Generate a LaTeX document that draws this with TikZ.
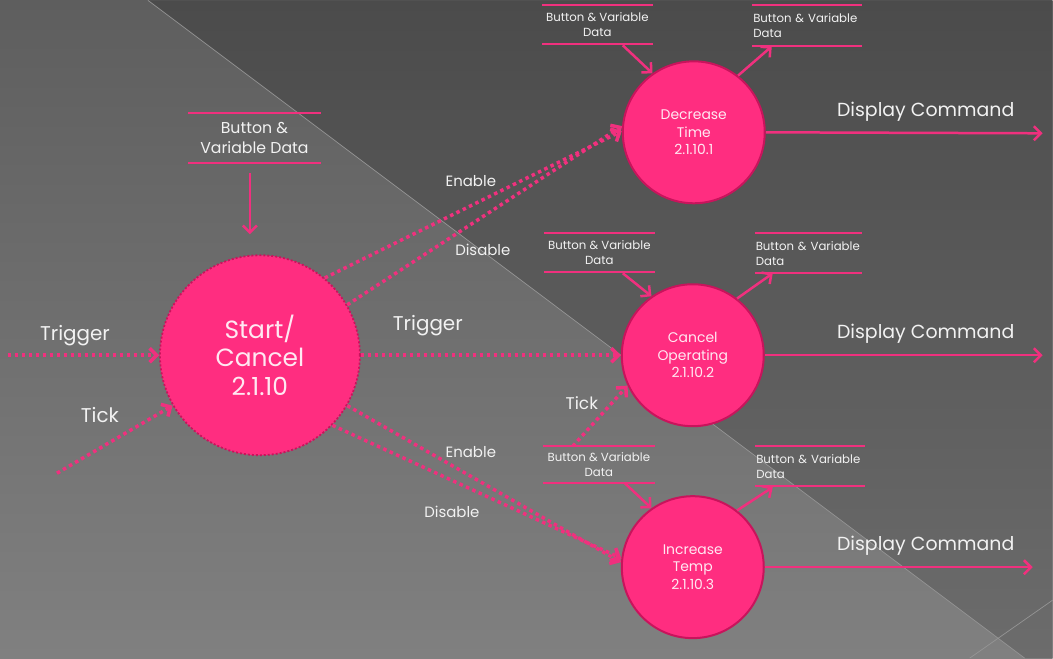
\documentclass[tikz,border=0pt]{standalone}
\usepackage{fontspec}
\setmainfont{Poppins}
\usetikzlibrary{arrows.meta}
\definecolor{pinkfill}{HTML}{FF2D80}
\definecolor{pinkedge}{HTML}{C8145C}
\definecolor{pinkline}{HTML}{F0307E}
\definecolor{labeltext}{HTML}{F2F2F2}
\definecolor{circletext}{HTML}{FFE8F2}
\definecolor{bgLightTop}{HTML}{5E5E5E}
\definecolor{bgLightBot}{HTML}{808080}
\definecolor{bgDarkTop}{HTML}{4B4B4B}
\definecolor{bgDarkBot}{HTML}{6C6C6C}
\definecolor{diagline}{HTML}{959595}
\tikzset{
  process/.style={circle, fill=pinkfill, draw=pinkedge, line width=2bp,
    minimum size=142bp, inner sep=0pt, align=center, text=circletext,
    font=\fontsize{14}{17.5}\selectfont},
  mainprocess/.style={process, minimum size=200bp, dotted, line width=1.8bp,
    font=\fontsize{25}{29}\selectfont},
  store/.style={inner sep=0pt, text=labeltext, align=center,
    font=\fontsize{11.8}{15}\selectfont},
  storerule/.style={fill=pinkline},
  flow/.style={draw=pinkline, line width=2.5bp,
    -{Straight Barb[length=7bp,width=14bp]}},
  dotflow/.style={flow, line width=3.5bp, dash pattern=on 3.5bp off 3.5bp},
  lbl/.style={text=labeltext, inner sep=0pt},
  biglbl/.style={lbl, font=\fontsize{20}{23}\selectfont},
  midlbl/.style={lbl, font=\fontsize{15}{18}\selectfont},
  diag/.style={draw=diagline, line width=0.7bp}
}
% upper and lower rule of a data store, as thin filled bars
\newcommand\storerules[1]{%
  \fill[storerule] ([yshift=1bp]#1.north west) rectangle ([yshift=-1bp]#1.north east);
  \fill[storerule] ([yshift=1bp]#1.south west) rectangle ([yshift=-1bp]#1.south east);
}
\begin{document}
\begin{tikzpicture}[x=1bp,y=-1bp]
% background panels
\shade[top color=bgLightTop, bottom color=bgLightBot] (0,0) rectangle (1053,658);
\shade[top color=bgDarkTop, bottom color=bgDarkBot]
  (148,0) -- (1053,0) -- (1053,658) -- (1025,658) -- cycle;
\draw[diag] (148,0) -- (1025,658);
\draw[diag] (970,658) -- (1053,600);
\useasboundingbox (0,0) rectangle (1053,658);

% processes
\node[mainprocess] (start) at (260,355) {Start/\\Cancel\\2.1.10};
\node[process] (dec)  at (694,132) {Decrease\\Time\\2.1.10.1};
\node[process] (canc) at (693,355) {Cancel\\Operating\\2.1.10.2};
\node[process] (inc)  at (693,567) {Increase\\Temp\\2.1.10.3};

% data stores
\node[store, minimum width=133bp, minimum height=50bp,
  font=\fontsize{15.8}{20}\selectfont] (tls) at (254.5,138) {Button \&\\Variable Data};
\node[store, minimum width=111bp, minimum height=38bp] (dls) at (597.5,24) {Button \& Variable\\Data};
\node[store, minimum width=110bp, minimum height=40bp, text width=107bp, align=left] (drs) at (807,25) {Button \& Variable\\Data};
\node[store, minimum width=111bp, minimum height=39bp] (cls) at (599.5,252.5) {Button \& Variable\\Data};
\node[store, minimum width=107bp, minimum height=40bp, text width=105bp, align=left] (crs) at (808.5,253) {Button \& Variable\\Data};
\node[store, minimum width=112bp, minimum height=37bp] (ils) at (599,464.5) {Button \& Variable\\Data};
\node[store, minimum width=110bp, minimum height=40bp, text width=107bp, align=left] (irs) at (810,466) {Button \& Variable\\Data};
\storerules{tls}
\storerules{dls}
\storerules{drs}
\storerules{cls}
\storerules{crs}
\storerules{ils}
\storerules{irs}

% free ends of flows
\coordinate (tlsout) at (250,173);
\coordinate (startin) at (250,234);
\coordinate (dlsout) at (623,45);
\coordinate (drsin) at (772,46);
\coordinate (clsout) at (623,273);
\coordinate (crsin) at (773,273);
\coordinate (ilsout) at (625,483);
\coordinate (irsin) at (773,487);
\coordinate (trigsrc) at (8,355);
\coordinate (ticksrc) at (57,473);
\coordinate (ticksrc2) at (573,446);
\coordinate (dispA) at (1043,133);
\coordinate (dispB) at (1043,355);
\coordinate (dispC) at (1033,567);

% solid flows
\draw[flow] (tlsout) -- (startin);
\draw[flow] (dlsout) -- (dec.125);
\draw[flow] (dec.52) -- (drsin);
\draw[flow] (clsout) -- (canc.125);
\draw[flow] (canc.52) -- (crsin);
\draw[flow] (ilsout) -- (inc.125);
\draw[flow] (inc.52) -- (irsin);
\draw[flow] (dec.east) -- (dispA);
\draw[flow] (canc.east) -- (dispB);
\draw[flow] (inc.east) -- (dispC);

% dotted control flows
\draw[dotflow] (trigsrc) -- (start.west);
\draw[dotflow] (ticksrc) -- (start.210);
\draw[dotflow] (start.east) -- (canc.west);
\draw[dotflow] (start.50) -- (dec.179);
\draw[dotflow] (start.30) -- (dec.175);
\draw[dotflow] (start.-30) -- (inc.176);
\draw[dotflow] (start.-44) -- (inc.173);
\draw[dotflow] (ticksrc2) -- (canc.205);

% labels
\node[biglbl] (lTrigA) at (75,335) {Trigger};
\node[biglbl] (lTickA) at (100,415) {Tick};
\node[biglbl] (lTrigB) at (428,325) {Trigger};
\node[midlbl] (lEnA) at (471,181) {Enable};
\node[midlbl] (lDisA) at (483,250) {Disable};
\node[midlbl] (lEnB) at (471,452) {Enable};
\node[midlbl] (lDisB) at (452,512) {Disable};
\node[lbl, font=\fontsize{17}{20}\selectfont] (lTickB) at (582,403) {Tick};
\node[lbl, font=\fontsize{19}{22}\selectfont] (dcA) at (926,111) {Display Command};
\node[lbl, font=\fontsize{19}{22}\selectfont] (dcB) at (926,334) {Display Command};
\node[lbl, font=\fontsize{19}{22}\selectfont] (dcC) at (926,546) {Display Command};
\end{tikzpicture}
\end{document}
